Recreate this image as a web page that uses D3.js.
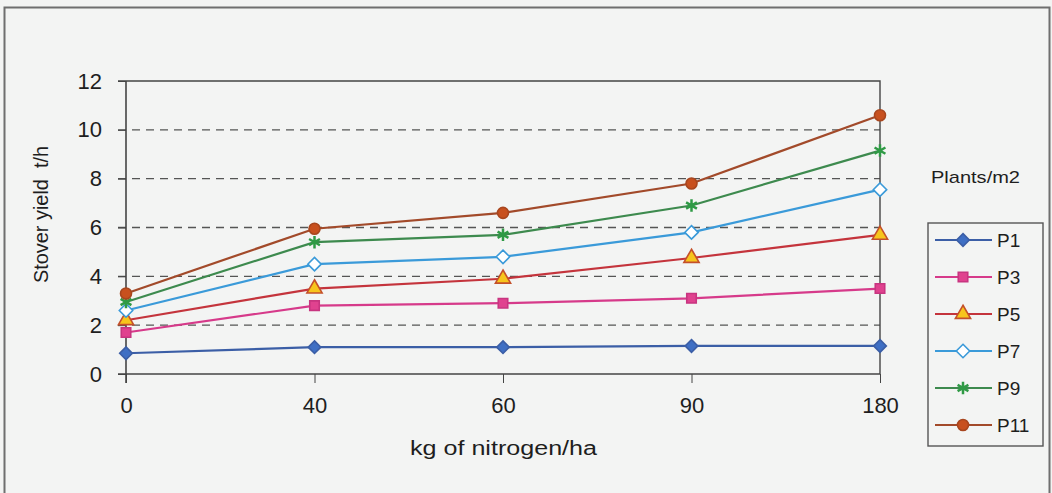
<!DOCTYPE html>
<html>
<head>
<meta charset="utf-8">
<script src="https://cdn.jsdelivr.net/npm/d3@7"></script>
<style>
  html, body { margin: 0; padding: 0; background: #f3f4f3; }
  svg { display: block; font-family: "Liberation Sans", Arial, sans-serif; }
</style>
</head>
<body>
<svg id="chart"></svg>
<script>
const categories = ['0', '40', '60', '90', '180'];
const seriesNames = ['P1', 'P3', 'P5', 'P7', 'P9', 'P11'];
const p1 = [0.85, 1.1, 1.1, 1.15, 1.15];
const p3 = [1.7, 2.8, 2.9, 3.1, 3.5];
const p5 = [2.2, 3.5, 3.9, 4.75, 5.7];
const p7 = [2.6, 4.5, 4.8, 5.8, 7.55];
const p9 = [2.95, 5.4, 5.7, 6.9, 9.15];
const p11 = [3.3, 5.95, 6.6, 7.8, 10.6];
const yTicks = [0, 2, 4, 6, 8, 10, 12];

const width = 1052;
const height = 493;
const plot = {left: 126, right: 880, top: 81, bottom: 374};
const bg = '#f3f4f3';
const ink = '#1e1e1e';

// diamond = square turned 45 degrees
const diamond = {
  draw(ctx, size) {
    const r = Math.sqrt(size / 2);
    ctx.moveTo(0, -r);
    ctx.lineTo(r, 0);
    ctx.lineTo(0, r);
    ctx.lineTo(-r, 0);
    ctx.closePath();
  }
};

const styles = [
  {line: '#3b5ea6', symbol: diamond, size: 80, fill: '#3f6fc4', stroke: '#3b5ea6'},
  {line: '#d63a8a', symbol: d3.symbolSquare, size: 90, fill: '#e0428f', stroke: '#c83580'},
  {line: '#c4343c', symbol: d3.symbolTriangle, size: 100, fill: '#f7c51c', stroke: '#c4502a'},
  {line: '#3a9ad9', symbol: diamond, size: 90, fill: '#ffffff', stroke: '#3a9ad9'},
  {line: '#3d8a4e', symbol: d3.symbolAsterisk, size: 110, fill: 'none', stroke: '#2f9a45'},
  {line: '#a24a2a', symbol: d3.symbolCircle, size: 95, fill: '#c8501e', stroke: '#a8461e'}
];
const series = [p1, p3, p5, p7, p9, p11].map((values, i) => ({name: seriesNames[i], values, style: styles[i]}));

const svg = d3.select('#chart').attr('width', width).attr('height', height);

// outer frame
svg.append('rect')
  .attr('x', 4.5).attr('y', 7.5)
  .attr('width', 1045).attr('height', 500)
  .attr('fill', bg)
  .attr('stroke', '#6f6f6f').attr('stroke-width', 2);

const x = d3.scalePoint().domain(categories).range([plot.left, plot.right]).padding(0);
const y = d3.scaleLinear().domain([0, 12]).range([plot.bottom, plot.top]);

// gridlines
svg.append('g')
  .selectAll('line')
  .data(yTicks.filter(d => d > 0 && d < 12))
  .join('line')
  .attr('x1', plot.left - 8).attr('x2', plot.right)
  .attr('y1', d => y(d)).attr('y2', d => y(d))
  .attr('stroke', '#555').attr('stroke-width', 1.3)
  .attr('stroke-dasharray', '8,6');

// plot border top and right
svg.append('path')
  .attr('d', `M${plot.left - 8},${y(12)}H${plot.right}V${plot.bottom}`)
  .attr('fill', 'none').attr('stroke', '#444').attr('stroke-width', 1.4);

// y axis
svg.append('g')
  .attr('transform', `translate(${plot.left},0)`)
  .call(d3.axisLeft(y).tickValues(yTicks).tickSize(8).tickPadding(16))
  .call(g => g.select('.domain').attr('d', `M0,${plot.top}V${plot.bottom + 9}`).attr('stroke', '#444').attr('stroke-width', 1.6))
  .call(g => g.selectAll('.tick line').attr('stroke', '#444'))
  .call(g => g.selectAll('.tick text').attr('font-size', 22).attr('fill', ink)
    .attr('font-family', '"Liberation Sans", Arial, sans-serif'));

// x axis
svg.append('g')
  .attr('transform', `translate(0,${plot.bottom})`)
  .call(d3.axisBottom(x).tickSize(9).tickPadding(14))
  .call(g => g.select('.domain').attr('d', `M${plot.left - 8},0H${plot.right}`).attr('stroke', '#444').attr('stroke-width', 1.6))
  .call(g => g.selectAll('.tick line').attr('stroke', '#444'))
  .call(g => g.selectAll('.tick text').attr('font-size', 22).attr('fill', ink)
    .attr('font-family', '"Liberation Sans", Arial, sans-serif'));

// axis titles
svg.append('text')
  .attr('x', 410).attr('y', 455)
  .attr('font-size', 20).attr('fill', ink)
  .attr('textLength', 187).attr('lengthAdjust', 'spacingAndGlyphs')
  .text('kg of nitrogen/ha');

svg.append('text')
  .attr('transform', 'translate(48,283) rotate(-90)')
  .attr('font-size', 20).attr('fill', ink)
  .attr('xml:space', 'preserve')
  .attr('textLength', 137).attr('lengthAdjust', 'spacingAndGlyphs')
  .text('Stover yield  t/h');

// lines
const line = d3.line().x((d, i) => x(categories[i])).y(d => y(d));

const sg = svg.append('g')
  .selectAll('g')
  .data(series)
  .join('g');

sg.append('path')
  .attr('d', d => line(d.values))
  .attr('fill', 'none')
  .attr('stroke', d => d.style.line)
  .attr('stroke-width', 2.2);

sg.selectAll('path.mark')
  .data(d => d.values.map((v, i) => ({v, i, style: d.style})))
  .join('path')
  .attr('class', 'mark')
  .attr('transform', d => `translate(${x(categories[d.i])},${y(d.v)})`)
  .attr('d', d => d3.symbol(d.style.symbol, d.style.size)())
  .attr('fill', d => d.style.fill)
  .attr('stroke', d => d.style.stroke)
  .attr('stroke-width', d => d.style.symbol === d3.symbolAsterisk ? 2.5 : 1.6);

// legend
svg.append('text')
  .attr('x', 931).attr('y', 183)
  .attr('font-size', 17).attr('fill', ink)
  .attr('textLength', 89).attr('lengthAdjust', 'spacingAndGlyphs')
  .text('Plants/m2');

const legend = svg.append('g');
legend.append('rect')
  .attr('x', 928).attr('y', 223)
  .attr('width', 115).attr('height', 223)
  .attr('fill', bg)
  .attr('stroke', '#555').attr('stroke-width', 1.4);

const ly = d3.scalePoint().domain(seriesNames).range([240, 425]);

const items = legend.selectAll('g.item')
  .data(series)
  .join('g')
  .attr('class', 'item')
  .attr('transform', d => `translate(0,${ly(d.name)})`);

items.append('line')
  .attr('x1', 935).attr('x2', 992)
  .attr('stroke', d => d.style.line).attr('stroke-width', 2.2);

items.append('path')
  .attr('transform', 'translate(963,0)')
  .attr('d', d => d3.symbol(d.style.symbol, d.style.size)())
  .attr('fill', d => d.style.fill)
  .attr('stroke', d => d.style.stroke)
  .attr('stroke-width', d => d.style.symbol === d3.symbolAsterisk ? 2.5 : 1.6);

items.append('text')
  .attr('x', 997).attr('dy', '0.36em')
  .attr('font-size', 19).attr('fill', ink)
  .text(d => d.name);
</script>
</body>
</html>
